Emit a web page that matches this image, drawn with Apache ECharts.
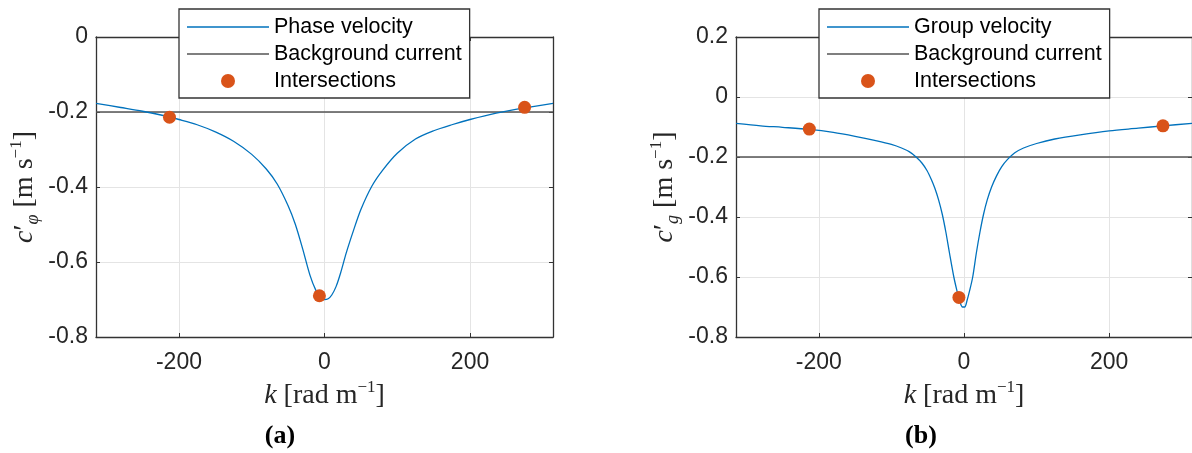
<!DOCTYPE html>
<html>
<head>
<meta charset="utf-8">
<script src="https://cdn.jsdelivr.net/npm/echarts@6/dist/echarts.min.js"></script>
<style>html,body{margin:0;padding:0;background:#fff}#c{width:1192px;height:453px}</style>
</head>
<body>
<div id="c"></div>
<script>
// ---- data ----
const kLimits = [-314, 314];
const kTicks = [-200, 0, 200];
const backgroundCurrent = -0.2;

const kPhase = [-314, -280, -250, -220, -200, -175, -150, -125, -100, -80, -65, -50, -40, -30, -20, -12, -5, 0, 5, 10, 16, 22, 30, 40, 50, 65, 80, 100, 125, 150, 175, 200, 236, 275, 314];
const phaseVel = [-0.177, -0.188, -0.198, -0.210, -0.220, -0.234, -0.253, -0.278, -0.313, -0.352, -0.392, -0.450, -0.500, -0.565, -0.635, -0.675, -0.695, -0.700, -0.698, -0.688, -0.665, -0.630, -0.575, -0.515, -0.460, -0.398, -0.355, -0.310, -0.272, -0.250, -0.234, -0.220, -0.203, -0.189, -0.177];
const phaseDotsK = [-213, -7, 275];
const phaseDotsV = [-0.214, -0.69, -0.1875];

const kGroup = [-314, -280, -250, -213, -180, -150, -120, -100, -86, -75, -66, -58, -51, -45, -40, -35, -30, -25, -20, -14, -10, -6, -2, 1, 4, 8, 12, 17, 22, 27, 32, 38, 45, 52, 60, 70, 82, 100, 125, 160, 200, 240, 274, 314];
const groupVel = [-0.088, -0.096, -0.101, -0.108, -0.118, -0.131, -0.146, -0.158, -0.170, -0.183, -0.200, -0.220, -0.245, -0.275, -0.305, -0.343, -0.390, -0.450, -0.520, -0.600, -0.643, -0.680, -0.700, -0.700, -0.680, -0.643, -0.600, -0.520, -0.450, -0.390, -0.343, -0.300, -0.262, -0.232, -0.208, -0.186, -0.170, -0.155, -0.140, -0.126, -0.113, -0.104, -0.096, -0.088];
const groupDotsK = [-213, -7, 274];
const groupDotsV = [-0.107, -0.668, -0.096];

const yLeft = {min: -0.8, max: 0, interval: 0.2};
const yRight = {min: -0.8, max: 0.2, interval: 0.2};

// ---- styling ----
const BLUE = '#0072BD', ORANGE = '#D95319', CURRENT = '#555555', FRAME = '#333333', GRID = '#e4e4e4';
const SANS = 'Liberation Sans, Arial, Helvetica, sans-serif';
const SERIF = 'Liberation Serif, Times New Roman, serif';
const LINE_ICON = 'path://M0,0 L82,0 L82,1.4 L0,1.4 Z';

const pairs = (xs, ys) => xs.map((x, i) => [x, ys[i]]);

const richName = {
  i: {fontFamily: SERIF, fontStyle: 'italic', fontSize: 28, color: '#262626', lineHeight: 34},
  r: {fontFamily: SERIF, fontSize: 28, color: '#262626', lineHeight: 34},
  sup: {fontFamily: SERIF, fontSize: 17, color: '#262626', verticalAlign: 'top', lineHeight: 20},
  sub: {fontFamily: SERIF, fontStyle: 'italic', fontSize: 18, color: '#262626', verticalAlign: 'bottom', lineHeight: 18}
};

function xAxes(gridIndex) {
  return [{
    type: 'value', gridIndex, position: 'bottom', min: kLimits[0], max: kLimits[1],
    axisLine: {show: true, onZero: false, lineStyle: {color: FRAME, width: 1.3}},
    axisTick: {show: true, inside: true, length: 4, customValues: kTicks, lineStyle: {color: FRAME}},
    axisLabel: {show: true, customValues: kTicks, margin: 14, fontSize: 23, fontFamily: SANS, color: '#262626'},
    splitLine: {show: true, lineStyle: {color: GRID, width: 1}},
    name: '{i|k}{r| [rad m}{sup|−1}{r|]}', nameLocation: 'middle', nameGap: 40,
    nameTextStyle: {rich: richName}
  }, {
    type: 'value', gridIndex, position: 'top', min: kLimits[0], max: kLimits[1],
    axisLine: {show: true, onZero: false, lineStyle: {color: FRAME, width: 1.3}},
    axisTick: {show: true, inside: true, length: 4, customValues: kTicks, lineStyle: {color: FRAME}},
    axisLabel: {show: false}, splitLine: {show: false}
  }];
}

function yAxes(gridIndex, lim, sym) {
  return [{
    type: 'value', gridIndex, position: 'left', min: lim.min, max: lim.max, interval: lim.interval,
    axisLine: {show: true, onZero: false, lineStyle: {color: FRAME, width: 1.3}},
    axisTick: {show: true, inside: true, length: 4, lineStyle: {color: FRAME}},
    axisLabel: {margin: 8, fontSize: 23, fontFamily: SANS, color: '#262626',
      formatter: v => (Math.abs(v) < 1e-9 ? '0' : String(+v.toFixed(1)))},
    splitLine: {show: true, lineStyle: {color: GRID, width: 1}},
    name: '{i|c}{r|′}{sub|' + sym + '}{r| [m s}{sup|−1}{r|]}', nameLocation: 'middle', nameGap: 54,
    nameTextStyle: {rich: richName}
  }, {
    type: 'value', gridIndex, position: 'right', min: lim.min, max: lim.max, interval: lim.interval,
    axisLine: {show: true, onZero: false, lineStyle: {color: FRAME, width: 1.3}},
    axisTick: {show: true, inside: true, length: 4, lineStyle: {color: FRAME}},
    axisLabel: {show: false}, splitLine: {show: false}
  }];
}

function legend(left, first) {
  return {
    data: [
      {name: first, icon: LINE_ICON},
      {name: 'Background current', icon: LINE_ICON},
      {name: 'Intersections', icon: 'circle'}
    ],
    orient: 'vertical', left, top: 9, itemWidth: 82, itemHeight: 14, itemGap: 5, symbolKeepAspect: true,
    padding: [7, 8, 6, 8], backgroundColor: '#fff', borderColor: FRAME, borderWidth: 1.3, borderRadius: 0,
    selectedMode: false, z: 10,
    textStyle: {fontSize: 21.5, fontFamily: SANS, color: '#000'}
  };
}

function seriesFor(xi, yi, name, ks, vs, dk, dv) {
  return [{
    name, type: 'line', xAxisIndex: xi, yAxisIndex: yi, data: pairs(ks, vs), symbol: 'none',
    smooth: 0.3,
    lineStyle: {color: BLUE, width: 1.3}, itemStyle: {color: BLUE}, z: 3
  }, {
    name: 'Background current', type: 'line', xAxisIndex: xi, yAxisIndex: yi,
    data: kLimits.map(k => [k, backgroundCurrent]), symbol: 'none',
    lineStyle: {color: CURRENT, width: 1.3}, itemStyle: {color: CURRENT}, z: 2
  }, {
    name: 'Intersections', type: 'scatter', xAxisIndex: xi, yAxisIndex: yi, data: pairs(dk, dv),
    symbol: 'circle', symbolSize: 13, itemStyle: {color: ORANGE, opacity: 1}, z: 4
  }];
}

const chart = echarts.init(document.getElementById('c'), null, {renderer: 'canvas'});
chart.setOption({
  animation: false,
  backgroundColor: '#fff',
  grid: [
    {left: 96, top: 37, width: 457, height: 300, containLabel: false},
    {left: 736, top: 37, width: 457, height: 300, containLabel: false}
  ],
  xAxis: [...xAxes(0), ...xAxes(1)],
  yAxis: [...yAxes(0, yLeft, 'φ'), ...yAxes(1, yRight, 'g')],
  legend: [legend(179, 'Phase velocity'), legend(819, 'Group velocity')],
  series: [
    ...seriesFor(0, 0, 'Phase velocity', kPhase, phaseVel, phaseDotsK, phaseDotsV),
    ...seriesFor(2, 2, 'Group velocity', kGroup, groupVel, groupDotsK, groupDotsV)
  ],
  graphic: [
    {type: 'text', x: 280, y: 436, style: {text: '(a)', align: 'center', verticalAlign: 'middle', textAlign: 'center', textVerticalAlign: 'middle', font: 'bold 26px ' + SERIF, fill: '#000'}},
    {type: 'text', x: 921, y: 436, style: {text: '(b)', align: 'center', verticalAlign: 'middle', textAlign: 'center', textVerticalAlign: 'middle', font: 'bold 26px ' + SERIF, fill: '#000'}}
  ]
});
</script>
</body>
</html>
